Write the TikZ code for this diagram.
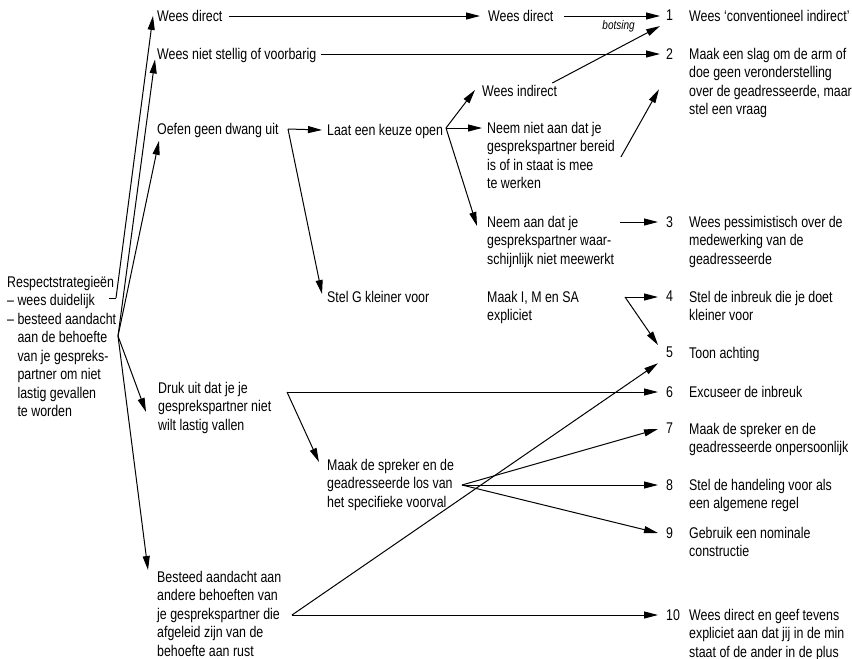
\documentclass[tikz,border=0pt]{standalone}
\usepackage{fontspec}
\setmainfont{Liberation Sans}[FakeStretch=0.80]
\usetikzlibrary{arrows.meta,calc}

\begin{document}
\begin{tikzpicture}[x=1pt,y=-1pt,
  every node/.style={inner sep=0pt, font=\fontsize{15.5}{18.5}\selectfont},
  txt/.style={anchor=north west, align=left},
  num/.style={anchor=north west},
  link/.style={line width=1pt, line join=miter},
  arr/.style={link, -{Triangle[length=14pt,width=7pt]}},
  note/.style={font=\fontsize{12.5}{14}\selectfont\itshape}]

\useasboundingbox (0,0) rectangle (852,659);
\fill[white] (0,0) rectangle (852,659);

% root
\node[txt] (root) at (7,276) {Respectstrategieën\\-- wees duidelijk\\-- besteed aandacht\\\phantom{-- }aan de behoefte\\\phantom{-- }van je gespreks-\\\phantom{-- }partner om niet\\\phantom{-- }lastig gevallen\\\phantom{-- }te worden};

% first level
\node[txt] (wd1) at (157,10) {Wees direct};
\node[txt] (wns) at (157,48) {Wees niet stellig of voorbarig};
\node[txt] (ogd) at (157,123) {Oefen geen dwang uit};
\node[txt] (druk) at (158,382) {Druk uit dat je je\\gesprekspartner niet\\wilt lastig vallen};
\node[txt] (bes) at (157,571) {Besteed aandacht aan\\andere behoeften van\\je gesprekspartner die\\afgeleid zijn van de\\behoefte aan rust};

% second level
\node[txt] (lko) at (327,124) {Laat een keuze open};
\node[txt] (sgk) at (327,291) {Stel G kleiner voor};
\node[txt] (los) at (327,459) {Maak de spreker en de\\geadresseerde los van\\het specifieke voorval};

% third level
\node[txt] (wd2) at (488,10) {Wees direct};
\node[txt] (wi) at (482,85) {Wees indirect};
\node[txt] (nna) at (487,122) {Neem niet aan dat je\\gesprekspartner bereid\\is of in staat is mee\\te werken};
\node[txt] (naj) at (487,216) {Neem aan dat je\\gesprekspartner waar-\\schijnlijk niet meewerkt};
\node[txt] (mim) at (487,291) {Maak I, M en SA\\expliciet};

% numbered strategies
\node[num] (n1) at (666,10) {1};
\node[txt] (i1) at (689,10) {Wees `conventioneel indirect'};
\node[num] (n2) at (666,48) {2};
\node[txt] (i2) at (689,48) {Maak een slag om de arm of\\doe geen veronderstelling\\over de geadresseerde, maar\\stel een vraag};
\node[num] (n3) at (666,216) {3};
\node[txt] (i3) at (689,216) {Wees pessimistisch over de\\medewerking van de\\geadresseerde};
\node[num] (n4) at (666,291) {4};
\node[txt] (i4) at (689,291) {Stel de inbreuk die je doet\\kleiner voor};
\node[num] (n5) at (666,347) {5};
\node[txt] (i5) at (689,347) {Toon achting};
\node[num] (n6) at (666,386) {6};
\node[txt] (i6) at (689,386) {Excuseer de inbreuk};
\node[num] (n7) at (666,423) {7};
\node[txt] (i7) at (689,423) {Maak de spreker en de\\geadresseerde onpersoonlijk};
\node[num] (n8) at (666,479) {8};
\node[txt] (i8) at (689,479) {Stel de handeling voor als\\een algemene regel};
\node[num] (n9) at (666,527) {9};
\node[txt] (i9) at (689,527) {Gebruik een nominale\\constructie};
\node[num] (n10) at (666,609) {10};
\node[txt] (i10) at (689,609) {Wees direct en geef tevens\\expliciet aan dat jij in de min\\staat of de ander in de plus};

% branching points
\coordinate (jA0) at (109,298);
\coordinate (jA) at (116,298);
\coordinate (jB) at (118,336);
\coordinate (jOgd) at (288,129);
\coordinate (jLko) at (446,128);
\coordinate (jMim) at (625,297);
\coordinate (jDruk) at (287,392);
\coordinate (jLos) at (462,485);
\coordinate (jBes) at (292,615);

% from the root
\draw[link] (jA0) -- (jA);
\draw[arr] (jA) -- ([xshift=-4pt]wd1.west);
\draw[arr] (jB) -- ([shift={(-2pt,-4pt)}]wns.west);
\draw[arr] (jB) -- ([shift={(2pt,-3pt)}]ogd.south west);
\draw[arr] (jB) -- ([shift={(-12pt,-4pt)}]druk.west);
\draw[arr] (jB) -- ([shift={(-9pt,1pt)}]bes.north west);

% top rows
\draw[arr] ([shift={(6pt,-6pt)}]wd1.north east) -- ([shift={(-8pt,-6pt)}]wd2.north west);
\draw[arr] ([shift={(10pt,-6pt)}]wd2.north east) --
  node[note, pos=0.57, anchor=north, yshift=-4pt] (bots) {botsing}
  ([shift={(-6pt,-6pt)}]n1.north west);
\draw[arr] ([shift={(5pt,-6pt)}]wns.north east) -- ([shift={(-6pt,-6pt)}]n2.north west);

% Oefen geen dwang uit
\draw[arr] (jOgd) -- ([shift={(-5pt,-6pt)}]lko.north west);
\draw[arr] (jOgd) -- ([shift={(-5pt,-3pt)}]sgk.north west);

% Laat een keuze open
\draw[arr] (jLko) -- ([shift={(-7pt,-5pt)}]wi.north west);
\draw[arr] (jLko) -- ([shift={(-5pt,-6pt)}]nna.north west);
\draw[arr] (jLko) -- ([shift={(-10pt,-10pt)}]naj.north west);

% third level to the strategies
\draw[arr] ([shift={(-5pt,2pt)}]wi.north east) -- ([shift={(-6pt,-5pt)}]n1.south west);
\draw[arr] ([shift={(6pt,-35pt)}]nna.north east) -- ([shift={(-7pt,-30pt)}]n2.south west);
\draw[arr] ([shift={(6pt,-6pt)}]naj.north east) -- ([shift={(-8pt,-6pt)}]n3.north west);
\draw[arr] (jMim) -- ([shift={(-8pt,-6pt)}]n4.north west);
\draw[arr] (jMim) -- ([shift={(-8pt,2pt)}]n5.north west);

% Druk uit dat je je gesprekspartner niet wilt lastig vallen
\draw[arr] (jDruk) -- ([shift={(-8pt,-6pt)}]n6.north west);
\draw[arr] (jDruk) -- ([shift={(-8pt,-3pt)}]los.north west);

% Maak de spreker en de geadresseerde los
\draw[arr] (jLos) -- ([shift={(-8pt,-6pt)}]n7.north west);
\draw[arr] (jLos) -- ([shift={(-8pt,-6pt)}]n8.north west);
\draw[arr] (jLos) -- ([shift={(-8pt,-6pt)}]n9.north west);

% Besteed aandacht aan andere behoeften
\draw[arr] (jBes) -- ([shift={(-8pt,-6pt)}]n10.north west);
\draw[arr] (jBes) -- ([shift={(-8pt,-5pt)}]n5.south west);

\end{tikzpicture}
\end{document}
